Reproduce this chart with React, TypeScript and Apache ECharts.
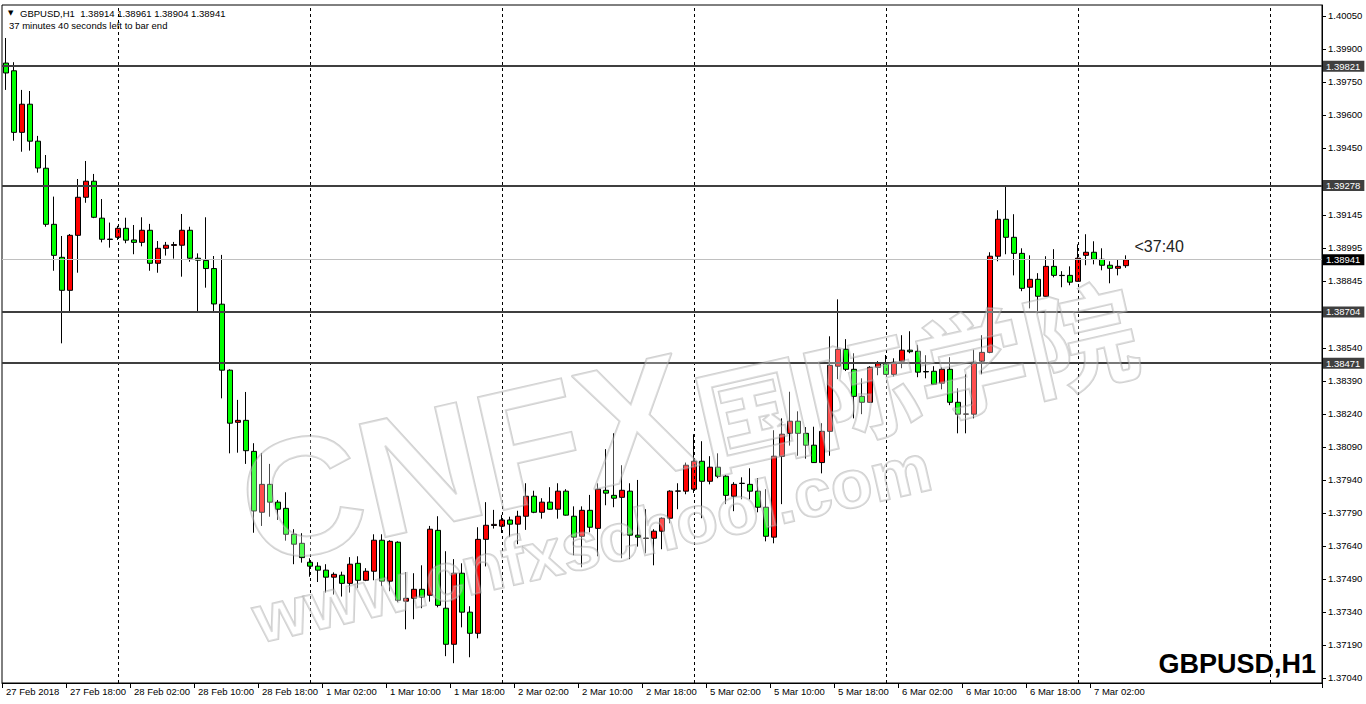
import React, { useEffect, useRef } from 'react';
import * as echarts from 'echarts';

// ---- time slots (H1 bars) ----
const dayNames = ['27 Feb', '28 Feb', '1 Mar', '2 Mar', '5 Mar', '6 Mar', '7 Mar', '8 Mar'];
const FIRST_HOUR = 10;
const SLOT_COUNT = 165;
const firstAxisLabel = '27 Feb 2018';
const separatorTimes = ['28 Feb 00:00', '1 Mar 00:00', '2 Mar 00:00', '5 Mar 00:00', '6 Mar 00:00', '7 Mar 00:00', '8 Mar 00:00'];

// ---- OHLC values ----
const opens = [
  1.39835, 1.39800, 1.39520, 1.39648, 1.39480, 1.39357, 1.39102, 1.38952, 1.38802, 1.39052,
  1.39225, 1.39298, 1.39130, 1.39035, 1.39043, 1.39084, 1.39031, 1.39020, 1.39075, 1.38925,
  1.38993, 1.39006, 1.39007, 1.39075, 1.38948, 1.38938, 1.38901, 1.38739, 1.38439, 1.38202,
  1.38211, 1.38070, 1.37793, 1.37920, 1.37839, 1.37811, 1.37693, 1.37652, 1.37566, 1.37548,
  1.37530, 1.37498, 1.37507, 1.37470, 1.37561, 1.37484, 1.37525, 1.37666, 1.37480, 1.37657,
  1.37389, 1.37402, 1.37443, 1.37416, 1.37711, 1.37357, 1.37193, 1.37516, 1.37339, 1.37243,
  1.37670, 1.37733, 1.37730, 1.37758, 1.37739, 1.37775, 1.37866, 1.37793, 1.37839, 1.37807,
  1.37889, 1.37775, 1.37684, 1.37802, 1.37720, 1.37893, 1.37870, 1.37861, 1.37889, 1.37689,
  1.37674, 1.37675, 1.37707, 1.37766, 1.37889, 1.37889, 1.37898, 1.38025, 1.37934, 1.37998,
  1.37957, 1.37866, 1.37924, 1.37920, 1.37889, 1.37816, 1.37680, 1.38048, 1.38152, 1.38207,
  1.38152, 1.38098, 1.38019, 1.38161, 1.38457, 1.38534, 1.38443, 1.38320, 1.38293, 1.38452,
  1.38470, 1.38420, 1.38480, 1.38530, 1.38525, 1.38433, 1.38434, 1.38380, 1.38443, 1.38293,
  1.38239, 1.38239, 1.38480, 1.38520, 1.38957, 1.39125, 1.39043, 1.38970, 1.38816, 1.38852,
  1.38775, 1.38911, 1.38870, 1.38870, 1.38843, 1.38961, 1.38975, 1.38943, 1.38916, 1.38902,
  1.38914,
];
const highs = [
  1.39949, 1.39839, 1.39713, 1.39708, 1.39504, 1.39417, 1.39228, 1.39049, 1.39058, 1.39308,
  1.39390, 1.39331, 1.39217, 1.39110, 1.39095, 1.39132, 1.39099, 1.39134, 1.39104, 1.39026,
  1.39022, 1.39022, 1.39149, 1.39091, 1.38970, 1.39134, 1.38958, 1.38963, 1.38443, 1.38304,
  1.38340, 1.38107, 1.38061, 1.38013, 1.37849, 1.37884, 1.37716, 1.37698, 1.37584, 1.37566,
  1.37557, 1.37520, 1.37523, 1.37589, 1.37593, 1.37539, 1.37693, 1.37693, 1.37666, 1.37661,
  1.37520, 1.37516, 1.37552, 1.37731, 1.37775, 1.37616, 1.37580, 1.37561, 1.37366, 1.37725,
  1.37839, 1.37804, 1.37781, 1.37773, 1.37800, 1.37925, 1.37891, 1.37857, 1.37907, 1.37925,
  1.37898, 1.37820, 1.37820, 1.37872, 1.37925, 1.38080, 1.38152, 1.38007, 1.37925, 1.37940,
  1.37807, 1.37716, 1.37770, 1.37893, 1.37925, 1.38019, 1.38148, 1.38116, 1.38048, 1.38061,
  1.37963, 1.37930, 1.37952, 1.37993, 1.37948, 1.37898, 1.38166, 1.38220, 1.38341, 1.38252,
  1.38180, 1.38182, 1.38198, 1.38593, 1.38761, 1.38580, 1.38516, 1.38402, 1.38457, 1.38480,
  1.38508, 1.38493, 1.38598, 1.38616, 1.38554, 1.38507, 1.38457, 1.38452, 1.38498, 1.38357,
  1.38420, 1.38532, 1.38598, 1.38975, 1.39166, 1.39280, 1.39148, 1.38993, 1.38961, 1.38880,
  1.38957, 1.38989, 1.38889, 1.38911, 1.39011, 1.39057, 1.39025, 1.38993, 1.38934, 1.38943,
  1.38961,
];
const lows = [
  1.39713, 1.39482, 1.39432, 1.39437, 1.39337, 1.39091, 1.38891, 1.38561, 1.38708, 1.38882,
  1.39200, 1.39130, 1.39020, 1.38996, 1.39031, 1.39016, 1.38966, 1.39002, 1.38891, 1.38882,
  1.38960, 1.38946, 1.38864, 1.38932, 1.38708, 1.38814, 1.38706, 1.38311, 1.38061, 1.38064,
  1.38013, 1.37700, 1.37731, 1.37773, 1.37758, 1.37664, 1.37557, 1.37564, 1.37500, 1.37476,
  1.37428, 1.37419, 1.37410, 1.37428, 1.37448, 1.37480, 1.37484, 1.37457, 1.37434, 1.37384,
  1.37261, 1.37307, 1.37357, 1.37387, 1.37361, 1.37139, 1.37107, 1.37270, 1.37134, 1.37220,
  1.37547, 1.37719, 1.37699, 1.37680, 1.37648, 1.37713, 1.37789, 1.37764, 1.37805, 1.37764,
  1.37778, 1.37598, 1.37543, 1.37702, 1.37593, 1.37825, 1.37816, 1.37584, 1.37580, 1.37637,
  1.37607, 1.37552, 1.37625, 1.37743, 1.37807, 1.37875, 1.37881, 1.37766, 1.37920, 1.37948,
  1.37830, 1.37798, 1.37852, 1.37852, 1.37793, 1.37661, 1.37652, 1.37830, 1.38096, 1.38050,
  1.38037, 1.38017, 1.37970, 1.38050, 1.38398, 1.38435, 1.38220, 1.38239, 1.38290, 1.38416,
  1.38417, 1.38411, 1.38448, 1.38516, 1.38407, 1.38402, 1.38374, 1.38352, 1.38280, 1.38152,
  1.38152, 1.38220, 1.38420, 1.38516, 1.38934, 1.38966, 1.38870, 1.38798, 1.38720, 1.38698,
  1.38774, 1.38861, 1.38816, 1.38825, 1.38842, 1.38916, 1.38920, 1.38893, 1.38834, 1.38870,
  1.38904,
];
const closes = [
  1.39790, 1.39520, 1.39648, 1.39480, 1.39358, 1.39102, 1.38961, 1.38802, 1.39052, 1.39225,
  1.39298, 1.39134, 1.39034, 1.39033, 1.39084, 1.39030, 1.39020, 1.39075, 1.38925, 1.38993,
  1.39007, 1.39010, 1.39075, 1.38948, 1.38939, 1.38901, 1.38740, 1.38439, 1.38198, 1.38211,
  1.38073, 1.37799, 1.37920, 1.37839, 1.37807, 1.37693, 1.37648, 1.37587, 1.37548, 1.37530,
  1.37498, 1.37511, 1.37470, 1.37557, 1.37484, 1.37525, 1.37666, 1.37480, 1.37661, 1.37393,
  1.37402, 1.37443, 1.37407, 1.37716, 1.37370, 1.37193, 1.37516, 1.37339, 1.37243, 1.37670,
  1.37734, 1.37738, 1.37758, 1.37739, 1.37775, 1.37866, 1.37793, 1.37839, 1.37807, 1.37889,
  1.37780, 1.37680, 1.37802, 1.37725, 1.37898, 1.37880, 1.37857, 1.37893, 1.37689, 1.37680,
  1.37676, 1.37707, 1.37766, 1.37889, 1.37890, 1.38007, 1.38025, 1.37934, 1.37998, 1.37957,
  1.37870, 1.37920, 1.37925, 1.37889, 1.37816, 1.37684, 1.38048, 1.38148, 1.38207, 1.38152,
  1.38098, 1.38019, 1.38161, 1.38461, 1.38534, 1.38443, 1.38320, 1.38293, 1.38452, 1.38470,
  1.38420, 1.38475, 1.38530, 1.38523, 1.38430, 1.38431, 1.38375, 1.38443, 1.38293, 1.38239,
  1.38240, 1.38475, 1.38520, 1.38957, 1.39125, 1.39043, 1.38970, 1.38811, 1.38852, 1.38775,
  1.38911, 1.38870, 1.38869, 1.38839, 1.38948, 1.38975, 1.38943, 1.38916, 1.38902, 1.38911,
  1.38941,
];

// ---- price axis ----
const priceMin = 1.37017;
const priceMax = 1.40099;
const priceTicks = [
  1.3704, 1.3719, 1.3734, 1.3749, 1.3764, 1.3779, 1.3794, 1.3809, 1.3824, 1.3839,
  1.3854, 1.38845, 1.38995, 1.39145, 1.3945, 1.396, 1.3975, 1.399, 1.4005,
];
const levelPrices = [1.39821, 1.39278, 1.38704, 1.38471];
const bidPrice = 1.38941;

// ---- texts ----
const headerLine1 = 'GBPUSD,H1  1.38914 1.38961 1.38904 1.38941';
const headerLine2 = '37 minutes 40 seconds left to bar end';
const countdownText = '<37:40';
const countdownPrice = 1.38999;
const symbolLabel = 'GBPUSD,H1';
const watermarkLatin = 'CNFX';
const watermarkCjk = '国际学院';
const watermarkUrl = 'www.cnfxschool.com';

const FONT = '"Liberation Sans", Arial, sans-serif';
const WM_FILL = 'rgba(255,255,255,0.3)';
const WM_STROKE = 'rgba(150,150,150,0.45)';

export default function App() {
  const ref = useRef<HTMLDivElement>(null);

  useEffect(() => {
    document.body.style.margin = '0';
    if (!ref.current) return;
    const chart = echarts.init(ref.current, undefined, { renderer: 'svg' });

    const times: string[] = [];
    for (let i = 0; i < SLOT_COUNT; i++) {
      const t = FIRST_HOUR + i;
      const d = Math.floor(t / 24);
      const h = t % 24;
      times.push(`${dayNames[d]} ${String(h).padStart(2, '0')}:00`);
    }
    const candles = opens.map((o, i) => [o, closes[i], lows[i], highs[i]]);
    const labelShown = (index: number) => index % 8 === 0 && index < opens.length;

    const levelLabel = (v: number, bg: string) => ({
      show: true,
      position: 'end',
      formatter: v.toFixed(5),
      color: '#ffffff',
      backgroundColor: bg,
      padding: [1, 4, 0, 3],
      fontSize: 9.5,
      fontFamily: FONT,
      distance: 1,
    });

    chart.setOption({
      animation: false,
      backgroundColor: '#ffffff',
      grid: {
        left: 2,
        top: 5,
        width: 1320,
        height: 678,
        show: true,
        borderColor: '#000',
        borderWidth: 1,
        backgroundColor: 'transparent',
      },
      xAxis: {
        type: 'category',
        data: times,
        boundaryGap: true,
        axisLine: { show: true, lineStyle: { color: '#000', width: 1 } },
        axisTick: { show: true, interval: labelShown, length: 5, lineStyle: { color: '#000' } },
        axisLabel: {
          interval: labelShown,
          formatter: (value: string, index: number) => (index === 0 ? firstAxisLabel : value),
          align: 'left',
          fontSize: 9.5,
          fontFamily: FONT,
          color: '#000',
          margin: 3,
        },
        splitLine: { show: false },
      },
      yAxis: {
        type: 'value',
        position: 'right',
        min: priceMin,
        max: priceMax,
        scale: true,
        splitLine: { show: false },
        axisLine: { show: true, lineStyle: { color: '#000' } },
        axisTick: { show: true, customValues: priceTicks, length: 4, lineStyle: { color: '#000' } },
        axisLabel: {
          customValues: priceTicks,
          formatter: (v: number) => v.toFixed(5),
          fontSize: 9.5,
          fontFamily: FONT,
          color: '#000',
          margin: 6,
        },
      },
      series: [
        {
          type: 'line',
          data: [],
          silent: true,
          symbol: 'none',
          z: 1,
          markLine: {
            symbol: ['none', 'none'],
            precision: 5,
            silent: true,
            animation: false,
            data: [
              ...separatorTimes.map((t) => ({
                xAxis: t,
                lineStyle: { color: '#000', width: 1, type: [3, 3] },
                label: { show: false },
              })),
              {
                yAxis: bidPrice,
                lineStyle: { color: '#c0c0c0', width: 1, type: 'solid' },
                label: levelLabel(bidPrice, '#000000'),
              },
              ...levelPrices.map((v) => ({
                yAxis: v,
                lineStyle: { color: '#3f3f3f', width: 2, type: 'solid' },
                label: levelLabel(v, '#3f3f3f'),
              })),
            ],
          },
        },
        {
          type: 'candlestick',
          data: candles,
          barWidth: 5,
          z: 3,
          itemStyle: {
            color: '#ff0000',
            color0: '#00ff00',
            borderColor: '#000000',
            borderColor0: '#000000',
            borderColorDoji: '#000000',
            borderWidth: 1,
          },
          markPoint: {
            symbol: 'rect',
            symbolSize: 1,
            precision: 5,
            silent: true,
            itemStyle: { color: 'rgba(0,0,0,0)' },
            data: [
              {
                coord: [times[opens.length], countdownPrice],
                label: {
                  show: true,
                  formatter: countdownText,
                  position: 'right',
                  distance: 0,
                  fontSize: 16,
                  fontFamily: FONT,
                  color: '#222',
                },
              },
            ],
          },
        },
      ],
      graphic: [
        {
          type: 'text',
          x: 8,
          y: 13,
          style: { text: '▼', font: '7px "DejaVu Sans"', fill: '#000', verticalAlign: 'middle', textVerticalAlign: 'middle' },
        },
        {
          type: 'text',
          x: 20,
          y: 13,
          style: { text: headerLine1, font: `9.5px ${FONT}`, fill: '#000', verticalAlign: 'middle', textVerticalAlign: 'middle' },
        },
        {
          type: 'text',
          x: 9,
          y: 25,
          style: { text: headerLine2, font: `9.5px ${FONT}`, fill: '#000', verticalAlign: 'middle', textVerticalAlign: 'middle' },
        },
        {
          type: 'text',
          x: 1316,
          y: 664,
          style: {
            text: symbolLabel,
            font: `bold 27px ${FONT}`,
            fill: '#000',
            align: 'right',
            textAlign: 'right',
            verticalAlign: 'middle',
            textVerticalAlign: 'middle',
          },
        },
        {
          type: 'group',
          x: 262,
          y: 592,
          rotation: 0.225,
          z: 50,
          silent: true,
          children: [
            {
              type: 'text',
              x: 0,
              y: 0,
              z: 50,
              style: {
                text: watermarkLatin,
                font: `bold 168px ${FONT}`,
                fill: WM_FILL,
                stroke: WM_STROKE,
                lineWidth: 2,
                verticalAlign: 'bottom',
                textVerticalAlign: 'bottom',
              },
            },
            {
              type: 'text',
              x: 462,
              y: -14,
              z: 50,
              style: {
                text: watermarkCjk,
                font: `bold 112px "Noto Sans CJK SC", ${FONT}`,
                fill: WM_FILL,
                stroke: WM_STROKE,
                lineWidth: 2,
                verticalAlign: 'bottom',
                textVerticalAlign: 'bottom',
              },
            },
          ],
        },
        {
          type: 'text',
          x: 262,
          y: 653,
          rotation: 0.225,
          z: 50,
          silent: true,
          style: {
            text: watermarkUrl,
            font: `bold 68px ${FONT}`,
            fill: WM_FILL,
            stroke: WM_STROKE,
            lineWidth: 2,
            verticalAlign: 'bottom',
            textVerticalAlign: 'bottom',
          },
        },
      ],
    });

    return () => chart.dispose();
  }, []);

  return <div ref={ref} style={{ width: 1366, height: 704, background: '#fff' }} />;
}
